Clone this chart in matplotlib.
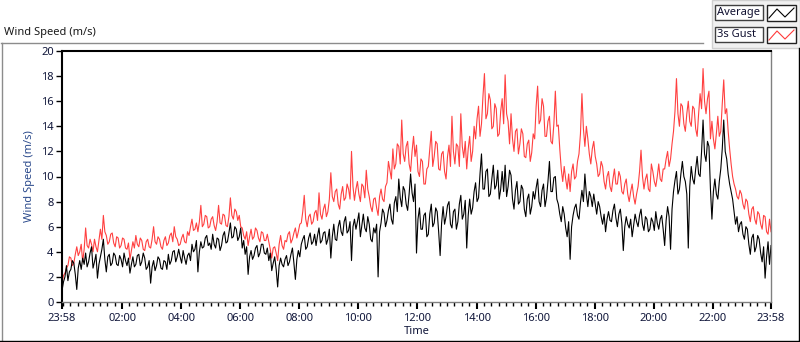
import numpy as np
import matplotlib
matplotlib.use("Agg")
import matplotlib.pyplot as plt
from matplotlib.patches import Rectangle

plt.rcParams["font.family"] = ["Noto Sans", "DejaVu Sans"]
plt.rcParams["font.size"] = 8

# Samples every 3 minutes from 23:58 (hour 0) to 23:58 next day (hour 24), one row per hour

# Average wind speed (m/s)
average = [
    0.9, 1.6, 2.0, 2.9, 1.7, 2.4, 2.6, 3.3, 3.1, 2.2, 1.0, 2.7, 3.3, 2.6, 3.5, 3.0, 3.9, 2.8, 3.2, 3.9,
    4.4, 2.7, 3.2, 3.8, 1.9, 3.0, 3.6, 4.2, 5.0, 3.4, 2.4, 3.6, 3.8, 2.9, 3.1, 3.9, 3.7, 3.0, 2.9, 3.7,
    3.4, 2.8, 3.9, 3.3, 2.9, 3.5, 2.3, 3.0, 3.6, 2.8, 3.0, 3.7, 3.8, 2.9, 3.2, 3.9, 3.5, 2.6, 2.8, 3.3,
    1.5, 2.8, 3.3, 2.5, 2.9, 3.6, 3.4, 2.7, 2.6, 3.3, 3.2, 2.6, 3.8, 3.0, 3.3, 4.0, 4.1, 3.2, 3.6, 4.2,
    3.6, 3.1, 4.1, 3.5, 3.0, 3.7, 3.9, 3.3, 4.6, 4.0, 4.2, 4.9, 2.4, 4.0, 4.8, 4.3, 4.4, 5.1, 5.3, 4.5,
    4.7, 4.2, 5.4, 4.6, 4.3, 5.1, 5.0, 4.1, 4.5, 5.3, 5.6, 4.7, 4.8, 5.5, 6.3, 5.1, 5.2, 6.0, 5.8, 4.9,
    5.2, 5.9, 4.3, 4.9, 3.8, 4.4, 2.2, 3.6, 4.1, 3.4, 3.7, 4.3, 4.5, 3.6, 3.9, 4.6, 4.6, 3.9, 3.8, 4.3,
    3.3, 3.9, 2.5, 3.1, 3.6, 2.6, 1.2, 2.9, 3.5, 3.0, 2.8, 3.4, 3.7, 2.9, 3.2, 3.8, 4.3, 3.1, 1.8, 3.4,
    4.1, 3.6, 4.6, 5.0, 5.3, 4.2, 4.4, 5.1, 5.5, 4.6, 4.8, 5.4, 4.5, 5.3, 5.9, 4.7, 4.9, 5.5, 5.6, 4.6,
    5.0, 5.8, 3.5, 5.2, 6.2, 5.0, 4.9, 6.0, 6.5, 5.6, 5.3, 6.4, 6.8, 5.5, 5.7, 6.4, 3.3, 6.0, 6.6, 5.8,
    6.4, 7.1, 5.2, 6.1, 7.0, 5.9, 5.6, 6.8, 6.2, 5.0, 4.8, 5.9, 5.5, 6.2, 2.0, 5.6, 6.3, 7.4, 7.1, 6.0,
    6.5, 7.3, 7.8, 6.6, 6.2, 7.9, 8.4, 7.2, 9.8, 8.3, 7.6, 9.2, 8.9, 7.8, 7.3, 8.6, 10.2, 8.7, 8.0, 9.4,
    3.9, 6.6, 7.5, 5.8, 5.8, 6.9, 7.1, 5.2, 5.4, 7.0, 7.8, 6.0, 6.3, 7.5, 7.2, 5.6, 3.7, 6.3, 7.6, 6.2,
    6.8, 7.7, 8.0, 6.2, 5.9, 7.2, 7.4, 5.8, 6.4, 7.8, 8.5, 6.6, 7.0, 8.1, 4.3, 6.9, 8.2, 7.0, 7.5, 8.8,
    9.5, 8.0, 8.3, 10.2, 11.8, 9.0, 9.0, 10.4, 10.6, 8.4, 8.6, 9.8, 10.9, 9.0, 9.3, 10.5, 8.2, 9.0, 10.4, 8.8,
    10.9, 8.4, 9.2, 10.5, 10.1, 8.2, 7.4, 8.9, 9.6, 7.8, 8.0, 9.3, 9.0, 7.4, 6.8, 8.2, 8.6, 7.0, 7.6, 8.8,
    8.2, 9.1, 9.8, 8.0, 7.6, 8.9, 9.4, 7.6, 8.3, 9.6, 11.2, 8.8, 8.8, 9.9, 10.0, 8.2, 7.8, 7.0, 6.4, 7.6,
    7.0, 5.9, 5.2, 6.4, 3.4, 6.0, 6.9, 7.5, 7.8, 6.9, 6.6, 7.9, 8.9, 8.0, 10.2, 8.6, 7.6, 8.8, 8.4, 7.6,
    8.6, 7.8, 7.0, 8.0, 7.6, 6.8, 6.2, 7.0, 5.6, 6.6, 7.2, 6.5, 6.4, 7.3, 7.8, 6.7, 6.0, 7.0, 7.4, 6.3,
    4.1, 6.0, 6.8, 6.2, 5.9, 6.6, 5.2, 6.1, 7.0, 6.4, 6.0, 6.9, 7.4, 6.2, 5.7, 6.8, 6.6, 5.6, 5.8, 6.7,
    6.4, 5.7, 7.2, 6.3, 5.8, 6.6, 6.9, 5.8, 4.5, 6.5, 7.6, 6.8, 4.2, 7.4, 8.8, 9.7, 10.4, 8.6, 9.0, 10.2,
    11.2, 10.0, 9.6, 8.6, 4.3, 9.2, 10.8, 9.8, 9.4, 10.6, 11.6, 10.2, 10.0, 12.0, 14.5, 11.8, 11.2, 12.8, 12.4, 9.0,
    6.6, 8.8, 9.8, 8.6, 8.2, 9.6, 10.6, 12.2, 14.5, 12.0, 11.4, 10.2, 9.4, 8.8, 8.2, 7.2, 6.2, 6.8, 5.6, 6.2,
    6.4, 5.4, 5.0, 6.0, 5.8, 4.6, 3.8, 5.1, 5.4, 4.0, 4.4, 5.3, 5.0, 3.9, 3.2, 4.4, 1.9, 3.6, 4.8, 3.0, 4.5,
]

# 3 second gust (m/s)
gust = [
    1.5, 2.1, 2.3, 2.7, 2.9, 3.6, 3.5, 2.9, 3.1, 3.8, 4.4, 3.7, 4.0, 4.6, 3.2, 4.2, 5.9, 4.5, 4.3, 5.0,
    4.6, 4.0, 5.0, 4.4, 4.0, 4.9, 5.8, 5.0, 6.9, 5.6, 5.3, 4.6, 4.8, 5.4, 5.5, 4.7, 4.4, 5.2, 5.1, 4.3,
    4.5, 5.1, 5.0, 4.3, 4.2, 4.7, 3.4, 4.1, 4.8, 4.3, 5.3, 4.6, 4.4, 5.1, 4.9, 4.2, 4.1, 4.8, 5.0, 4.4,
    4.3, 5.0, 6.0, 4.8, 4.6, 5.2, 5.0, 4.4, 4.2, 4.9, 5.2, 4.5, 4.7, 5.3, 5.5, 4.8, 6.0, 5.2, 5.0, 4.5,
    4.6, 5.1, 5.4, 4.8, 4.7, 5.6, 5.3, 6.0, 6.6, 5.7, 5.8, 6.3, 5.6, 6.4, 7.7, 6.0, 6.2, 6.9, 6.8, 5.9,
    6.0, 6.6, 6.8, 6.1, 5.7, 6.4, 7.7, 6.3, 6.2, 7.0, 6.9, 6.1, 6.0, 6.8, 8.3, 6.9, 6.6, 7.4, 7.2, 6.5,
    6.9, 6.0, 5.9, 5.3, 5.0, 5.6, 4.5, 5.2, 5.8, 5.0, 5.2, 5.9, 5.7, 5.1, 4.8, 5.6, 5.5, 4.9, 4.9, 5.4,
    4.8, 4.2, 3.5, 4.3, 4.4, 3.9, 3.3, 4.6, 5.3, 4.5, 4.2, 4.9, 4.8, 5.4, 5.6, 4.7, 5.0, 5.5, 5.9, 5.1,
    5.6, 6.2, 6.3, 7.2, 8.5, 6.6, 6.0, 6.8, 7.0, 6.2, 6.4, 7.1, 7.3, 6.5, 8.7, 7.0, 6.6, 7.4, 7.8, 6.8,
    7.2, 8.2, 10.3, 8.4, 8.0, 8.8, 9.0, 7.8, 7.4, 8.6, 9.2, 8.1, 8.3, 9.4, 9.0, 8.2, 12.0, 9.2, 8.1, 9.0,
    9.6, 8.6, 8.0, 9.4, 9.2, 8.3, 10.5, 9.0, 8.4, 7.6, 7.2, 8.2, 8.3, 7.5, 6.9, 8.4, 9.0, 8.2, 8.0, 9.2,
    9.5, 11.2, 10.5, 9.8, 12.2, 10.6, 11.0, 12.6, 12.4, 11.0, 14.5, 11.8, 11.2, 12.4, 12.8, 11.0, 10.4, 12.0, 13.2, 11.6,
    12.5, 10.4, 10.0, 11.4, 11.2, 9.4, 9.4, 10.6, 10.8, 12.2, 13.6, 10.8, 11.6, 12.8, 12.6, 10.6, 10.5, 11.8, 12.0, 10.4,
    9.8, 11.6, 12.5, 10.8, 14.8, 12.0, 11.0, 12.6, 12.4, 10.8, 15.0, 12.4, 11.5, 12.8, 10.6, 12.2, 13.2, 11.2, 12.0, 14.0,
    13.0, 14.6, 15.6, 13.2, 14.2, 16.4, 18.2, 14.6, 15.0, 16.6, 16.1, 13.8, 14.0, 15.8, 15.4, 13.2, 13.4, 15.2, 16.2, 14.2,
    18.1, 15.0, 14.4, 12.6, 15.0, 13.0, 12.0, 13.6, 13.8, 11.8, 12.6, 13.8, 13.4, 11.6, 11.5, 12.6, 12.9, 11.2, 11.9, 13.4,
    13.0, 15.6, 17.2, 14.2, 14.5, 16.2, 15.6, 13.2, 13.2, 14.4, 14.8, 12.8, 12.6, 14.2, 16.8, 14.0, 14.1, 12.2, 10.6, 9.6,
    10.8, 9.8, 9.0, 10.2, 8.8, 10.4, 11.0, 9.8, 10.0, 11.2, 11.8, 13.4, 16.6, 13.8, 12.4, 14.0, 13.0, 11.8, 11.0, 12.2,
    12.8, 11.6, 11.0, 10.0, 10.2, 11.2, 10.8, 9.6, 9.0, 10.0, 10.4, 9.2, 8.8, 9.8, 10.6, 9.4, 9.4, 10.4, 10.0, 8.8,
    8.6, 9.4, 9.8, 8.6, 8.0, 8.8, 9.4, 8.4, 7.8, 8.6, 9.2, 10.4, 12.1, 10.0, 9.0, 9.8, 10.2, 9.0, 8.8, 11.0,
    10.4, 9.6, 9.2, 10.0, 11.0, 9.8, 9.6, 10.6, 10.6, 11.4, 12.0, 10.8, 11.4, 12.6, 13.6, 15.2, 17.8, 15.0, 14.0, 15.8,
    15.6, 14.2, 13.6, 15.0, 16.0, 14.4, 14.0, 15.6, 15.4, 13.8, 13.2, 15.0, 16.6, 15.4, 18.6, 16.0, 15.0, 16.2, 16.8, 13.0,
    14.4, 13.0, 12.2, 13.4, 14.8, 13.2, 13.6, 15.8, 17.7, 15.0, 15.4, 13.6, 12.2, 11.0, 10.0, 9.4, 9.0, 8.4, 8.2, 8.9,
    8.6, 7.8, 7.4, 8.2, 8.0, 7.0, 6.4, 7.4, 7.6, 6.6, 6.2, 7.2, 7.0, 6.2, 5.8, 6.9, 6.8, 5.6, 5.4, 6.6, 5.6,
]

tick_labels = ["23:58", "02:00", "04:00", "06:00", "08:00", "10:00", "12:00",
               "14:00", "16:00", "18:00", "20:00", "22:00", "23:58"]

hours_avg = np.linspace(0, 24, len(average))
hours_gust = np.linspace(0, 24, len(gust))
offset = 2 / 60  # 23:58 -> 00:00
major = [0] + [2 * k + offset for k in range(1, 12)] + [24]
minor = np.arange(offset, 24, 0.25)

W, H = 800, 342
fig = plt.figure(figsize=(W / 100, H / 100), dpi=100)

# panel decorations in pixel coordinates
bg = fig.add_axes([0, 0, 1, 1], zorder=0)
bg.set_xlim(0, W)
bg.set_ylim(H, 0)
bg.axis("off")
bg.plot([1, 703], [42.5, 42.5], color="#8c8c8c", lw=1)
bg.plot([1.5, 1.5], [42.5, 341], color="#8c8c8c", lw=1)
bg.plot([0, 799], [341, 341], color="black", lw=1)
bg.plot([798.5, 798.5], [48, 341], color="black", lw=1)
bg.add_patch(Rectangle((712, 0), 88, 48, facecolor="#f0f0f0", edgecolor="#d0d0d0", lw=1))
for y0, name, col in [(5, "Average", "black"), (27, "3s Gust", "#ff3a3a")]:
    bg.add_patch(Rectangle((715, y0), 48, 15, facecolor="white", edgecolor="#404040", lw=1))
    bg.text(717, y0 + 7.5, name, ha="left", va="center", fontsize=8, color="#101030")
    bg.add_patch(Rectangle((767, y0), 29, 16, facecolor="white", edgecolor="#202020", lw=1))
    bg.plot([769, 777, 785, 794], [y0 + 13, y0 + 4, y0 + 12, y0 + 3], color=col, lw=0.8)

fig.text(4 / W, 1 - 32 / H, "Wind Speed (m/s)", ha="left", va="center", fontsize=8, color="#1a1a1a")

ax = fig.add_axes([62 / W, 40 / H, 709 / W, 251 / H], zorder=1)
ax.plot(hours_gust, gust, color="#ff4040", lw=0.8, label="3s Gust")
ax.plot(hours_avg, average, color="black", lw=0.8, label="Average")

ax.set_xlim(0, 24)
ax.set_ylim(0, 20)
ax.set_yticks(range(0, 21, 2))
ax.set_xticks(major)
ax.set_xticklabels(tick_labels)
ax.set_xticks(minor, minor=True)
ax.tick_params(axis="y", direction="out", length=4, width=1, colors="black",
               labelcolor="#10163a", labelsize=8, pad=2)
ax.tick_params(axis="x", which="major", direction="out", length=5, width=1.5,
               labelcolor="#10163a", labelsize=8, pad=3)
ax.tick_params(axis="x", which="minor", direction="out", length=3, width=1)
ax.set_ylabel("Wind Speed (m/s)", color="#2b4a8c", fontsize=8, labelpad=4)
ax.set_xlabel("Time", color="#10163a", fontsize=8, labelpad=1)

for side in ["top", "left"]:
    ax.spines[side].set_color("black")
    ax.spines[side].set_linewidth(1.5)
for side in ["bottom", "right"]:
    ax.spines[side].set_color("#808080")
    ax.spines[side].set_linewidth(1)

fig.savefig("out.png", dpi=100)
